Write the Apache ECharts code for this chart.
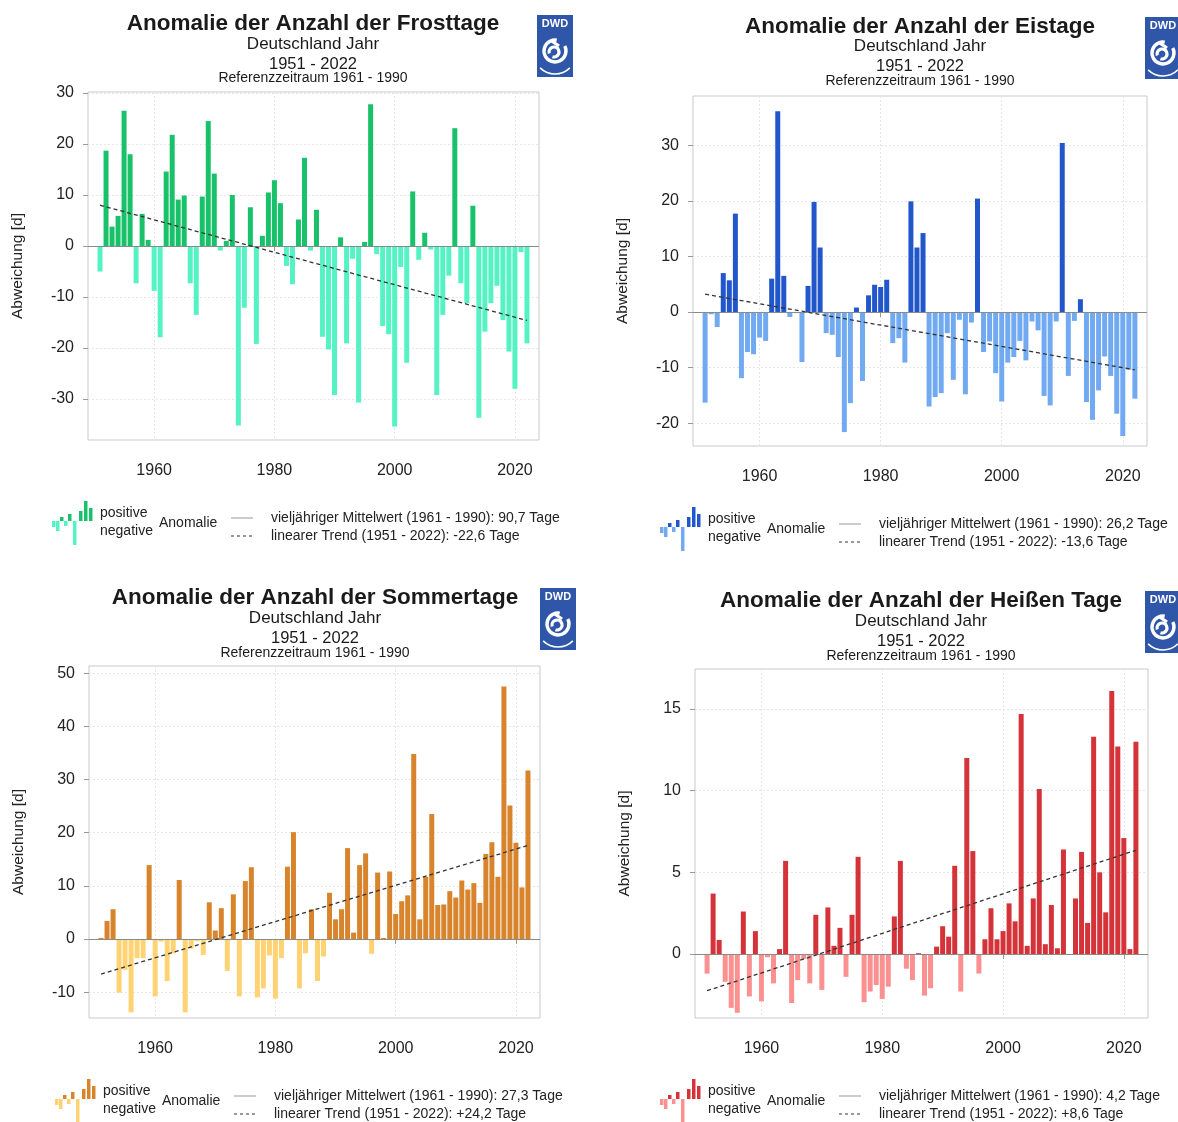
<!DOCTYPE html>
<html><head><meta charset="utf-8">
<script src="https://cdn.jsdelivr.net/npm/echarts@6/dist/echarts.min.js"></script>
<style>html,body{margin:0;padding:0;background:#fff}#c{width:1178px;height:1122px}</style>
</head><body><div id="c"></div>
<script>
// ---------------- DATA ----------------
const years = [1951,1952,1953,1954,1955,1956,1957,1958,1959,1960,
1961,1962,1963,1964,1965,1966,1967,1968,1969,1970,
1971,1972,1973,1974,1975,1976,1977,1978,1979,1980,
1981,1982,1983,1984,1985,1986,1987,1988,1989,1990,
1991,1992,1993,1994,1995,1996,1997,1998,1999,2000,
2001,2002,2003,2004,2005,2006,2007,2008,2009,2010,
2011,2012,2013,2014,2015,2016,2017,2018,2019,2020,
2021,2022];

const frostValues = [-5.0,18.7,3.8,5.9,26.5,18.0,-7.3,6.3,1.2,-8.8,
-17.9,14.6,21.8,9.1,9.9,-7.3,-13.5,9.7,24.5,14.2,
-0.9,1.0,10.0,-35.2,-12.1,7.6,-19.2,2.0,10.5,12.9,
8.4,-3.9,-7.5,5.2,17.3,-0.9,7.1,-17.8,-20.3,-29.2,
1.7,-19.1,-2.5,-30.7,0.8,27.8,-1.6,-15.7,-17.3,-35.4,
-4.1,-22.9,10.7,-2.7,2.6,-0.7,-29.2,-13.5,-5.8,23.1,
-7.3,-11.2,7.9,-33.7,-16.8,-11.2,-7.8,-14.5,-20.7,-28.0,
-1.2,-19.1];

const eisValues = [-16.3,-0.4,-2.7,7.0,5.7,17.7,-11.9,-7.2,-7.6,-4.6,
-5.2,6.0,36.1,6.5,-0.9,-0.2,-9.0,4.7,19.8,11.6,
-3.8,-4.1,-8.1,-21.6,-16.4,0.8,-12.4,3.0,4.9,4.5,
5.8,-5.6,-4.7,-9.1,19.9,11.6,14.2,-17.0,-15.3,-14.6,
-3.8,-12.2,-1.4,-14.8,-1.9,20.4,-7.2,-5.3,-11.0,-16.1,
-9.1,-8.1,-5.2,-8.7,-1.7,-3.3,-15.1,-16.8,-1.7,30.4,
-11.5,-1.6,2.3,-16.2,-19.4,-14.1,-8.0,-11.5,-18.3,-22.3,
-10.4,-15.6];

const sommerValues = [0.2,3.4,5.6,-10.1,-5.8,-13.8,-3.6,-3.6,13.9,-10.8,
-0.5,-7.9,-2.7,11.1,-13.8,-1.8,-0.4,-3.0,6.9,1.6,
5.8,-6.0,8.4,-10.8,10.9,13.5,-11.0,-9.3,-3.1,-11.2,
-3.6,13.6,20.1,-9.3,-2.7,5.6,-7.9,-3.3,8.7,3.7,
5.6,17.1,1.2,13.9,16.1,-2.8,12.5,0.2,12.7,4.7,
7.1,8.2,34.8,3.7,11.7,23.5,6.4,6.5,9.0,7.8,
11.0,9.3,10.5,6.8,16.0,18.2,11.7,47.5,25.1,18.1,
9.7,31.7];

const heissValues = [-1.2,3.7,0.86,-1.7,-3.3,-3.6,2.6,-2.6,1.4,-2.9,
-0.2,-1.8,0.3,5.7,-3.0,-1.6,-0.3,-1.8,2.4,-2.2,
2.85,0.5,1.6,-1.4,2.4,5.95,-2.95,-2.3,-1.9,-2.75,
-2.0,2.3,5.7,-0.9,-1.6,0.05,-2.55,-2.1,0.45,1.7,
1.06,5.4,-2.3,12.0,6.3,-1.2,0.9,2.8,0.9,1.4,
3.1,2.0,14.7,0.5,3.4,10.1,0.6,3.0,0.35,6.4,
0.0,3.4,6.25,1.9,13.3,5.0,2.55,16.1,12.7,7.1,
0.3,13.0];

// linear trend line values at 1951 and 2022
const frostTrend = [8.0, -14.6];
const eisTrend = [3.2, -10.4];
const sommerTrend = [-6.6, 17.6];
const heissTrend = [-2.25, 6.35];

// tick labels
const xTickValues = [1960, 1980, 2000, 2020];
const frostTicks = [-30, -20, -10, 0, 10, 20, 30];
const eisTicks = [-20, -10, 0, 10, 20, 30];
const sommerTicks = [-10, 0, 10, 20, 30, 40, 50];
const heissTicks = [0, 5, 10, 15];

// texts
const titleTexts = ['Anomalie der Anzahl der Frosttage', 'Anomalie der Anzahl der Eistage',
  'Anomalie der Anzahl der Sommertage', 'Anomalie der Anzahl der Heißen Tage'];
const meanTexts = ['vieljähriger Mittelwert (1961 - 1990): 90,7 Tage', 'vieljähriger Mittelwert (1961 - 1990): 26,2 Tage',
  'vieljähriger Mittelwert (1961 - 1990): 27,3 Tage', 'vieljähriger Mittelwert (1961 - 1990): 4,2 Tage'];
const trendTexts = ['linearer Trend (1951 - 2022): -22,6 Tage', 'linearer Trend (1951 - 2022): -13,6 Tage',
  'linearer Trend (1951 - 2022): +24,2 Tage', 'linearer Trend (1951 - 2022): +8,6 Tage'];

// ---------------- LAYOUT / STYLE ----------------
const FONT = '"Liberation Sans", Arial, Helvetica, sans-serif';
const panels = [
  {values: frostValues, trend: frostTrend, ticks: frostTicks,
   grid: {left: 88, top: 92, width: 451, height: 348}, yMin: -38.04, yMax: 30.2,
   pos: '#19c26a', neg: '#55f2c3', cx: 313, ty: [24, 44, 64, 78], logo: [537, 15], lx: 100, ly: 513},
  {values: eisValues, trend: eisTrend, ticks: eisTicks,
   grid: {left: 693, top: 96, width: 454, height: 350}, yMin: -24.1, yMax: 38.85,
   pos: '#2157cb', neg: '#72aaf2', cx: 920, ty: [27, 46, 66, 81], logo: [1145, 17], lx: 708, ly: 519},
  {values: sommerValues, trend: sommerTrend, ticks: sommerTicks,
   grid: {left: 89, top: 666, width: 451, height: 352}, yMin: -14.86, yMax: 51.35,
   pos: '#d8842c', neg: '#ffd374', cx: 315, ty: [598, 618, 638, 653], logo: [540, 588], lx: 103, ly: 1091},
  {values: heissValues, trend: heissTrend, ticks: heissTicks,
   grid: {left: 695, top: 669, width: 453, height: 349}, yMin: -3.92, yMax: 17.45,
   pos: '#d43439', neg: '#fb9090', cx: 921, ty: [601, 621, 641, 656], logo: [1145, 591], lx: 708, ly: 1091}
];

const grids = [], xAxes = [], yAxes = [], series = [], graphics = [];

function txt(x, y, text, size, opts) {
  return {type: 'text', x: x, y: y, silent: true,
    style: Object.assign({text: text, font: (opts && opts.bold ? 'bold ' : '') + size + 'px ' + FONT,
      fill: '#1a1a1a', textAlign: 'center', textVerticalAlign: 'middle'}, opts && opts.style)};
}

panels.forEach((p, i) => {
  grids.push(Object.assign({show: true, borderColor: '#c9c9c9', borderWidth: 1, backgroundColor: '#fff'}, p.grid));
  xAxes.push({
    type: 'value', gridIndex: i, min: 1949, max: 2024,
    axisLine: {show: false},
    axisTick: {show: true, customValues: xTickValues, length: 5, lineStyle: {color: '#999'}},
    axisLabel: {customValues: xTickValues, fontSize: 16, color: '#222', fontFamily: FONT, margin: 23,
      formatter: (v) => String(v)},
    splitLine: {show: true, lineStyle: {color: '#e6e6e6', type: [2, 2]}}
  });
  yAxes.push({
    type: 'value', gridIndex: i, min: p.yMin, max: p.yMax,
    axisLine: {show: false},
    axisTick: {show: true, customValues: p.ticks, length: 5, lineStyle: {color: '#999'}},
    axisLabel: {customValues: p.ticks, fontSize: 16, color: '#222', fontFamily: FONT, margin: 14,
      formatter: (v) => String(v)},
    splitLine: {show: true, lineStyle: {color: '#e6e6e6', type: [2, 2]}},
    name: 'Abweichung [d]', nameLocation: 'middle', nameGap: 62,
    nameTextStyle: {fontSize: 15.5, color: '#222', fontFamily: FONT}
  });
  series.push({
    type: 'bar', xAxisIndex: i, yAxisIndex: i, barWidth: 5,
    data: years.map((y, k) => [y, p.values[k]]),
    itemStyle: {color: (d) => d.value[1] >= 0 ? p.pos : p.neg},
    markLine: {silent: true, symbol: 'none', label: {show: false},
      lineStyle: {color: '#8a8a8a', width: 1, type: 'solid'}, data: [{yAxis: 0}]},
    animation: false
  });
  series.push({
    type: 'line', xAxisIndex: i, yAxisIndex: i, symbol: 'none', silent: true,
    data: [[years[0], p.trend[0]], [years[years.length - 1], p.trend[1]]],
    lineStyle: {color: '#333', width: 1.3, type: [4, 3]}, z: 5, animation: false
  });

  // titles
  graphics.push(txt(p.cx, p.ty[0], titleTexts[i], 22.5, {bold: true}));
  graphics.push(txt(p.cx, p.ty[1], 'Deutschland Jahr', 17));
  graphics.push(txt(p.cx, p.ty[2], '1951 - 2022', 16.5));
  graphics.push(txt(p.cx, p.ty[3], 'Referenzzeitraum 1961 - 1990', 14));

  // DWD logo
  const [gx, gy] = p.logo;
  graphics.push({type: 'rect', silent: true, shape: {x: gx, y: gy, width: 36, height: 62}, style: {fill: '#2f56a9'}});
  graphics.push(txt(gx + 18, gy + 9, 'DWD', 11, {bold: true, style: {fill: '#fff'}}));
  graphics.push({type: 'arc', silent: true, shape: {cx: gx + 18, cy: gy + 36, r: 11, startAngle: -0.15 * Math.PI, endAngle: 1.55 * Math.PI},
    style: {stroke: '#fff', lineWidth: 3.4, fill: null}});
  graphics.push({type: 'arc', silent: true, shape: {cx: gx + 17, cy: gy + 37, r: 5, startAngle: 0.9 * Math.PI, endAngle: 2.6 * Math.PI},
    style: {stroke: '#fff', lineWidth: 3.2, fill: null}});
  graphics.push({type: 'line', silent: true, shape: {x1: gx + 14, y1: gy + 25.5, x2: gx + 22, y2: gy + 31}, style: {stroke: '#fff', lineWidth: 3.2}});
  graphics.push({type: 'arc', silent: true, shape: {cx: gx + 18, cy: gy + 38, r: 21, startAngle: 0.25 * Math.PI, endAngle: 0.75 * Math.PI},
    style: {stroke: '#fff', lineWidth: 1.5, fill: null}});

  // legend
  const lx = p.lx, ly = p.ly, base = ly + 8;
  const icon = [[-48, 6, 0], [-44, 10, 0], [-40, -4, 1], [-36, 5, 0], [-32, -7, 1], [-27, 24, 0], [-21, -10, 1], [-16, -20, 1], [-11, -13, 1]];
  icon.forEach(b => {
    const h = b[1];
    graphics.push({type: 'rect', silent: true,
      shape: {x: lx + b[0], y: h > 0 ? base : base + h, width: 3.5, height: Math.abs(h)},
      style: {fill: b[2] ? p.pos : p.neg}});
  });
  graphics.push(txt(lx, ly, 'positive', 14, {style: {textAlign: 'left', fill: '#222'}}));
  graphics.push(txt(lx, ly + 18, 'negative', 14, {style: {textAlign: 'left', fill: '#222'}}));
  graphics.push(txt(lx + 59, ly + 10, 'Anomalie', 14, {style: {textAlign: 'left', fill: '#222'}}));
  graphics.push({type: 'line', silent: true, shape: {x1: lx + 131, y1: ly + 5, x2: lx + 153, y2: ly + 5}, style: {stroke: '#999', lineWidth: 1}});
  graphics.push({type: 'line', silent: true, shape: {x1: lx + 131, y1: ly + 23, x2: lx + 155, y2: ly + 23}, style: {stroke: '#333', lineWidth: 1.2, lineDash: [3, 3]}});
  graphics.push(txt(lx + 171, ly + 5, meanTexts[i], 14, {style: {textAlign: 'left', fill: '#222'}}));
  graphics.push(txt(lx + 171, ly + 23, trendTexts[i], 14, {style: {textAlign: 'left', fill: '#222'}}));
});

const chart = echarts.init(document.getElementById('c'), null, {renderer: 'canvas', width: 1178, height: 1122});
chart.setOption({
  animation: false,
  backgroundColor: '#fff',
  textStyle: {fontFamily: FONT},
  grid: grids, xAxis: xAxes, yAxis: yAxes, series: series,
  graphic: {elements: graphics}
});
</script>
</body></html>
